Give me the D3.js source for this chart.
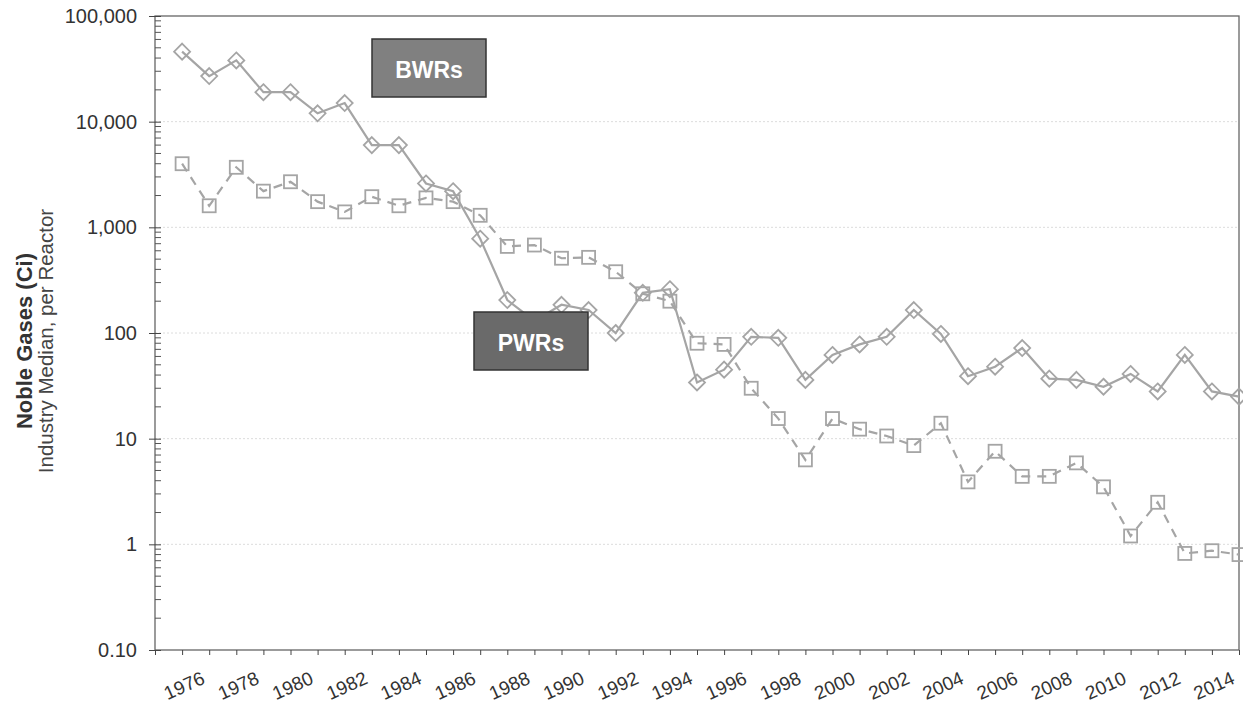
<!DOCTYPE html>
<html>
<head>
<meta charset="utf-8">
<script src="https://cdn.jsdelivr.net/npm/d3@7"></script>
<style>
  body { margin: 0; background: #fff; }
  svg { display: block; font-family: "Liberation Sans", Arial, sans-serif; }
</style>
</head>
<body>
<div id="chart"></div>
<script>
// Noble gas releases, industry median per reactor (Ci), log scale

const years = [1975, 1976, 1977, 1978, 1979, 1980, 1981, 1982, 1983, 1984,
  1985, 1986, 1987, 1988, 1989, 1990, 1991, 1992, 1993, 1994,
  1995, 1996, 1997, 1998, 1999, 2000, 2001, 2002, 2003, 2004,
  2005, 2006, 2007, 2008, 2009, 2010, 2011, 2012, 2013, 2014];

const bwr = [46000, 27000, 38000, 19000, 19000, 12000, 15000, 6000, 6000, 2600,
  2200, 780, 205, 130, 185, 165, 100, 240, 260, 34,
  45, 92, 90, 36, 62, 78, 92, 165, 98, 39,
  48, 72, 37, 36, 31, 41, 28, 62, 28, 25];

const pwr = [4000, 1600, 3700, 2200, 2700, 1750, 1400, 1950, 1600, 1900,
  1750, 1300, 660, 680, 510, 520, 380, 235, 200, 80,
  78, 30, 15.5, 6.3, 15.5, 12.3, 10.6, 8.6, 14, 3.9,
  7.6, 4.4, 4.4, 5.9, 3.5, 1.2, 2.5, 0.82, 0.87, 0.8];

const yTicks = [0.1, 1, 10, 100, 1000, 10000, 100000];
const yTickLabels = ["0.10", "1", "10", "100", "1,000", "10,000", "100,000"];
const xLabelYears = [1976, 1978, 1980, 1982, 1984, 1986, 1988, 1990, 1992, 1994,
  1996, 1998, 2000, 2002, 2004, 2006, 2008, 2010, 2012, 2014];

const width = 1243;
const height = 704;
const marginTop = 16;
const marginRight = 4;
const marginBottom = 54;
const marginLeft = 155;

const svg = d3.select("#chart").append("svg")
    .attr("width", width)
    .attr("height", height)
    .attr("viewBox", [0, 0, width, height]);

const x = d3.scaleLinear()
    .domain([1974, 2014])
    .range([marginLeft, width - marginRight]);

const y = d3.scaleLog()
    .domain([0.1, 100000])
    .range([height - marginBottom, marginTop]);

// faint gridlines at each decade
svg.append("g")
    .selectAll("line")
    .data(yTicks.slice(1, -1))
    .join("line")
    .attr("x1", marginLeft)
    .attr("x2", width - marginRight)
    .attr("y1", d => y(d))
    .attr("y2", d => y(d))
    .attr("stroke", "#dcdcdc")
    .attr("stroke-dasharray", "2,2");

// frame
svg.append("rect")
    .attr("x", marginLeft)
    .attr("y", marginTop)
    .attr("width", width - marginRight - marginLeft)
    .attr("height", height - marginBottom - marginTop)
    .attr("fill", "none")
    .attr("stroke", "#666")
    .attr("stroke-width", 1.3);

// y minor ticks
const minor = [];
for (let e = -1; e < 5; e++) for (let k = 2; k <= 9; k++) minor.push(k * Math.pow(10, e));
svg.append("g")
    .selectAll("line")
    .data(minor)
    .join("line")
    .attr("x1", marginLeft)
    .attr("x2", marginLeft + 6)
    .attr("y1", d => y(d))
    .attr("y2", d => y(d))
    .attr("stroke", "#555");

// y axis
svg.append("g")
    .attr("transform", `translate(${marginLeft + 6},0)`)
    .call(d3.axisLeft(y).tickValues(yTicks).tickSize(12).tickPadding(12)
      .tickFormat((d, i) => yTickLabels[i]))
    .call(g => g.select(".domain").remove())
    .call(g => g.selectAll("line").attr("stroke", "#444"))
    .call(g => g.selectAll("text").attr("font-size", 20).attr("fill", "#333")
      .attr("font-family", "Liberation Sans, Arial, sans-serif"));

// x axis
svg.append("g")
    .attr("transform", `translate(0,${height - marginBottom})`)
    .call(d3.axisBottom(x).tickValues(d3.range(1974, 2015)).tickSize(5).tickFormat(""))
    .call(g => g.select(".domain").remove())
    .call(g => g.selectAll("line").attr("stroke", "#444"));

svg.append("g")
    .selectAll("text")
    .data(xLabelYears)
    .join("text")
    .attr("transform", d => `translate(${x(d) - 3},${height - marginBottom + 33}) rotate(-24)`)
    .attr("text-anchor", "end")
    .attr("font-size", 19)
    .attr("fill", "#333")
    .text(d => d);

// axis title
const yTitle = svg.append("g")
    .attr("transform", `translate(0,341) rotate(-90)`);
yTitle.append("text")
    .attr("y", 32)
    .attr("text-anchor", "middle")
    .attr("font-size", 22)
    .attr("font-weight", "bold")
    .attr("fill", "#333")
    .text("Noble Gases (Ci)");
yTitle.append("text")
    .attr("y", 53)
    .attr("text-anchor", "middle")
    .attr("font-size", 20.5)
    .attr("fill", "#444")
    .text("Industry Median, per Reactor");

const lineColor = "#a5a5a5";
const line = d3.line()
    .x((d, i) => x(years[i]))
    .y(d => y(d));

// PWRs: dashed with squares
svg.append("path")
    .datum(pwr)
    .attr("fill", "none")
    .attr("stroke", lineColor)
    .attr("stroke-width", 2.2)
    .attr("stroke-dasharray", "9,7")
    .attr("d", line);

svg.append("g")
    .selectAll("rect")
    .data(pwr)
    .join("rect")
    .attr("x", (d, i) => x(years[i]) - 6.5)
    .attr("y", d => y(d) - 6.5)
    .attr("width", 13)
    .attr("height", 13)
    .attr("fill", "none")
    .attr("stroke", lineColor)
    .attr("stroke-width", 1.8);

// BWRs: solid with diamonds
svg.append("path")
    .datum(bwr)
    .attr("fill", "none")
    .attr("stroke", lineColor)
    .attr("stroke-width", 2.2)
    .attr("d", line);

svg.append("g")
    .selectAll("path")
    .data(bwr)
    .join("path")
    .attr("transform", (d, i) => `translate(${x(years[i])},${y(d)})`)
    .attr("d", "M0,-8L8,0L0,8L-8,0Z")
    .attr("fill", "none")
    .attr("stroke", lineColor)
    .attr("stroke-width", 1.8);

// label boxes
const labels = [
  {text: "BWRs", x0: 372, y0: 39, fill: "#808080"},
  {text: "PWRs", x0: 474, y0: 312, fill: "#6a6a6a"}
];
const lab = svg.append("g")
    .selectAll("g")
    .data(labels)
    .join("g")
    .attr("transform", d => `translate(${d.x0},${d.y0})`);
lab.append("rect")
    .attr("width", 114)
    .attr("height", 58)
    .attr("fill", d => d.fill)
    .attr("stroke", "#333")
    .attr("stroke-width", 1.5);
lab.append("text")
    .attr("x", 57)
    .attr("y", 39)
    .attr("text-anchor", "middle")
    .attr("font-size", 23)
    .attr("font-weight", "bold")
    .attr("fill", "#fff")
    .text(d => d.text);
</script>
</body>
</html>
